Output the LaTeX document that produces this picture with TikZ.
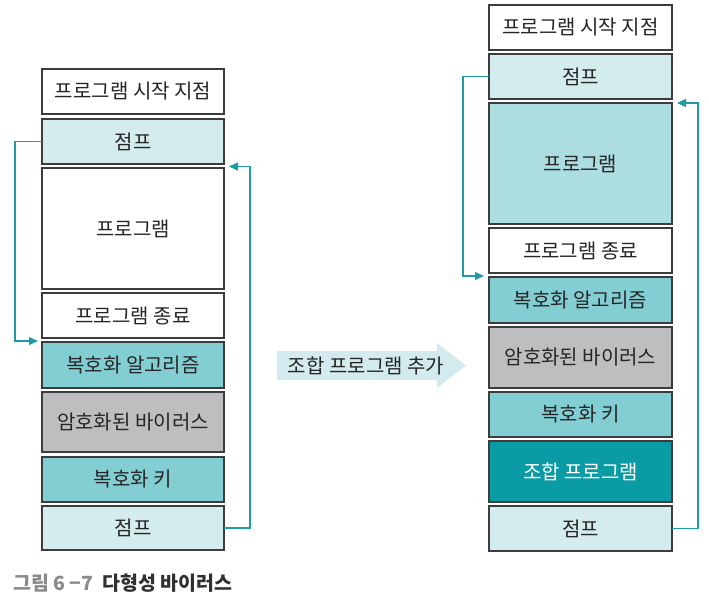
\documentclass[tikz,border=0pt]{standalone}
\usepackage{fontspec}
\setmainfont{Noto Sans CJK KR}
\usetikzlibrary{arrows.meta}
\definecolor{jump}{HTML}{D4ECEE}
\definecolor{midteal}{HTML}{83CED3}
\definecolor{progteal}{HTML}{ACDDE1}
\definecolor{virgray}{HTML}{BDBEC0}
\definecolor{darkteal}{HTML}{0B9BA5}
\definecolor{conncol}{HTML}{1E9BA3}
\definecolor{bordercol}{HTML}{3C3C3C}
\definecolor{capgray}{HTML}{8A8A8A}
\definecolor{capdark}{HTML}{303030}
\definecolor{bigarrow}{HTML}{D3EBEE}
\tikzset{
  blk/.style={draw=bordercol, line width=1.4pt, inner sep=0pt, outer sep=0pt,
    font=\fontsize{20}{24}\selectfont, text=black!85},
  lw/.style={blk, minimum width=182pt},
  rw/.style={blk, minimum width=183pt},
  conn/.style={draw=conncol, line width=1.3pt, -{Triangle[length=9pt,width=8pt]}},
}
\begin{document}
\begin{tikzpicture}[x=1pt,y=-1pt]
\useasboundingbox (0,0) rectangle (709,604);
% left column
\node[lw, minimum height=45pt, fill=white] (L1) at (133,91.5) {프로그램 시작 지점};
\node[lw, minimum height=45pt, fill=jump] (L2) at (133,141.5) {점프};
\node[lw, minimum height=121pt, fill=white] (L3) at (133,228.5) {프로그램};
\node[lw, minimum height=45pt, fill=white] (L4) at (133,315.5) {프로그램 종료};
\node[lw, minimum height=46pt, fill=midteal] (L5) at (133,365) {복호화 알고리즘};
\node[lw, minimum height=60pt, fill=virgray] (L6) at (133,422) {암호화된 바이러스};
\node[lw, minimum height=45pt, fill=midteal] (L7) at (133,479.5) {복호화 키};
\node[lw, minimum height=44pt, fill=jump] (L8) at (133,528) {점프};
% right column
\node[rw, minimum height=45pt, fill=white] (R1) at (580.5,27.5) {프로그램 시작 지점};
\node[rw, minimum height=45pt, fill=jump] (R2) at (580.5,76.5) {점프};
\node[rw, minimum height=121pt, fill=progteal] (R3) at (580.5,163.5) {프로그램};
\node[rw, minimum height=45pt, fill=white] (R4) at (580.5,250.5) {프로그램 종료};
\node[rw, minimum height=46pt, fill=midteal] (R5) at (580.5,300) {복호화 알고리즘};
\node[rw, minimum height=61pt, fill=virgray] (R6) at (580.5,357.5) {암호화된 바이러스};
\node[rw, minimum height=45pt, fill=midteal] (R7) at (580.5,414.5) {복호화 키};
\node[rw, minimum height=61pt, fill=darkteal, text=white] (R8) at (580.5,471.5) {조합 프로그램};
\node[rw, minimum height=45pt, fill=jump] (R9) at (580.5,528.5) {점프};
% connectors
\draw[conn] (L2.west) -- ++(-27,0) |- ([xshift=-4pt,yshift=1pt]L5.north west);
\draw[conn] (L8.east) -- ++(26,0) |- ([xshift=5pt,yshift=1.5pt]L3.north east);
\draw[conn] (R2.west) -- ++(-26,0) |- ([xshift=-5pt,yshift=1pt]R5.north west);
\draw[conn] (R9.east) -- ++(26,0) |- ([xshift=5pt]R3.north east);
% big arrow
\fill[bigarrow] (277,351) -- (437,351) -- (437,343) -- (466,365.5) -- (437,388) -- (437,380) -- (277,380) -- cycle;
\node[font=\fontsize{20}{24}\selectfont, text=black!85] (AR) at (366,365.5) {조합 프로그램 추가};
% caption
\node[anchor=west, inner sep=0pt, font=\fontsize{19.5}{23}\selectfont\bfseries] (CAP) at (13,583)
  {\textcolor{capgray}{그림 6 −7}\hspace{9pt}\textcolor{capdark}{다형성 바이러스}};
\end{tikzpicture}
\end{document}
